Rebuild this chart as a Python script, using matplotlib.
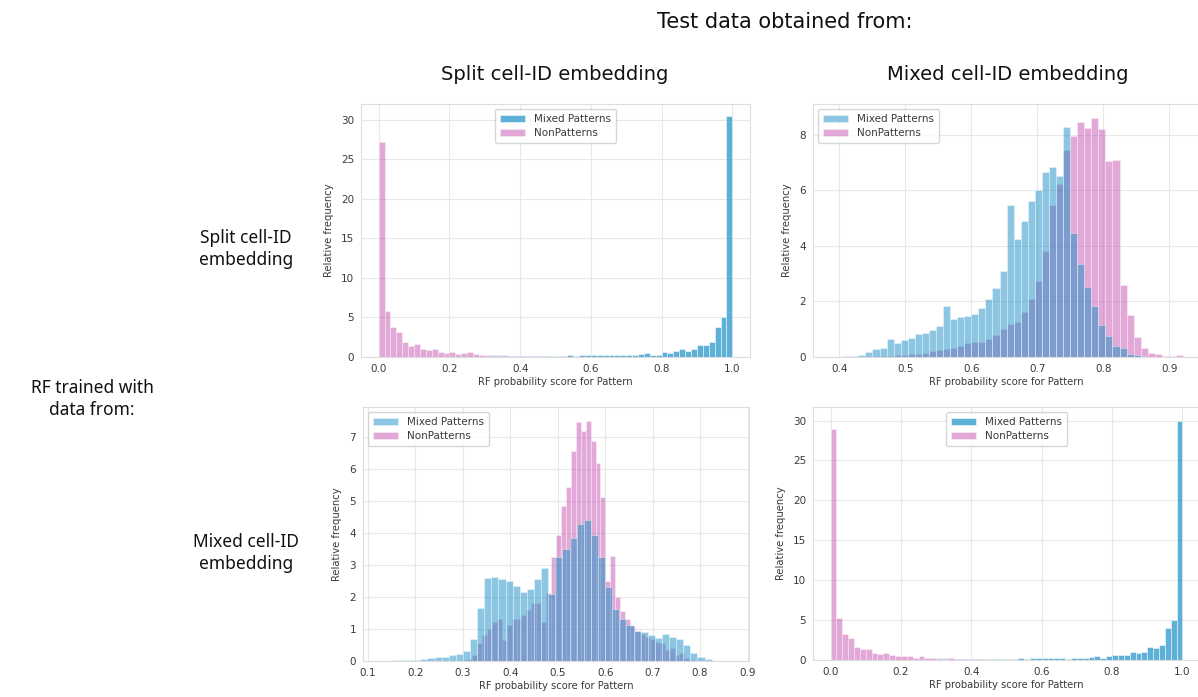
import numpy as np
import matplotlib
matplotlib.use("Agg")
import matplotlib.pyplot as plt
import seaborn as sns

sns.set_style("whitegrid")
plt.rcParams['font.family'] = ['DejaVu Sans']

# ---- data (relative frequency per bin) ----
# split/split and mixed/mixed panels: 60 bins over [0, 1]
split_bins = np.linspace(0, 1, 61)

tl_mixed = [0.02, 0.02, 0.02, 0.02, 0.02, 0.02, 0.02, 0.02, 0.02, 0.03,
            0.03, 0.03, 0.04, 0.04, 0.05, 0.05, 0.05, 0.06, 0.12, 0.15,
            0.18, 0.15, 0.10, 0.15, 0.12, 0.10, 0.12, 0.15, 0.10, 0.12,
            0.15, 0.12, 0.20, 0.18, 0.20, 0.20, 0.22, 0.20, 0.25, 0.30,
            0.25, 0.20, 0.30, 0.30, 0.35, 0.50, 0.30, 0.30, 0.65, 0.55,
            0.75, 1.00, 0.80, 0.95, 1.50, 1.50, 1.85, 3.85, 5.00, 30.5]
tl_non = [27.2, 5.80, 3.80, 3.20, 1.85, 1.40, 1.70, 1.00, 0.90, 0.95,
          0.60, 0.50, 0.65, 0.40, 0.50, 0.60, 0.35, 0.30, 0.30, 0.25,
          0.25, 0.20, 0.15, 0.15, 0.12, 0.10, 0.10, 0.08, 0.08, 0.06,
          0.06, 0.05, 0.05, 0.04, 0.04, 0.03, 0.03, 0.03, 0.02, 0.02,
          0.02, 0.02, 0.01, 0.01, 0.01, 0.01, 0.01, 0.01, 0.01, 0.01,
          0.01, 0.01, 0.01, 0.01, 0.01, 0.01, 0.01, 0.01, 0.01, 0.02]

br_mixed = [0.02, 0.02, 0.02, 0.02, 0.02, 0.02, 0.02, 0.03, 0.03, 0.03,
            0.03, 0.04, 0.04, 0.04, 0.04, 0.04, 0.04, 0.05, 0.10, 0.08,
            0.05, 0.10, 0.08, 0.10, 0.15, 0.10, 0.05, 0.10, 0.10, 0.15,
            0.10, 0.15, 0.20, 0.15, 0.20, 0.20, 0.25, 0.20, 0.20, 0.25,
            0.15, 0.30, 0.30, 0.30, 0.35, 0.45, 0.30, 0.45, 0.60, 0.60,
            0.60, 1.05, 0.90, 1.05, 1.65, 1.50, 1.90, 4.00, 5.00, 30.0]
br_non = [29.0, 5.20, 3.30, 2.80, 1.60, 1.35, 1.35, 0.90, 0.80, 0.85,
          0.60, 0.50, 0.55, 0.45, 0.30, 0.55, 0.30, 0.30, 0.20, 0.20,
          0.20, 0.15, 0.15, 0.12, 0.10, 0.10, 0.08, 0.08, 0.06, 0.06,
          0.05, 0.05, 0.04, 0.04, 0.03, 0.03, 0.03, 0.02, 0.02, 0.02,
          0.02, 0.02, 0.01, 0.01, 0.01, 0.01, 0.01, 0.01, 0.01, 0.01,
          0.01, 0.01, 0.01, 0.01, 0.01, 0.01, 0.01, 0.01, 0.01, 0.02]

# split-trained RF on mixed test data
tr_bin_width = 0.0107
tr_mixed_start = 0.3966
tr_mixed = [0.01, 0.02, 0.04, 0.08, 0.17, 0.27, 0.31, 0.66, 0.50, 0.60,
            0.69, 0.81, 0.87, 0.96, 1.10, 1.84, 1.35, 1.44, 1.47, 1.56,
            1.78, 2.07, 2.48, 3.10, 5.48, 4.24, 4.90, 5.60, 6.00, 6.64,
            6.82, 6.52, 8.28, 4.45, 3.35, 2.50, 1.85, 1.15, 0.75, 0.40,
            0.33, 0.10, 0.06, 0.02]
tr_non_start = 0.4501
tr_non = [0.02, 0.03, 0.04, 0.06, 0.08, 0.10, 0.12, 0.15, 0.20, 0.25,
          0.30, 0.33, 0.38, 0.50, 0.55, 0.55, 0.66, 0.78, 1.02, 1.20,
          1.26, 1.62, 2.10, 2.74, 3.80, 5.48, 6.23, 7.44, 7.95, 8.45,
          8.25, 8.60, 8.20, 7.05, 7.10, 2.60, 1.50, 0.72, 0.32, 0.15,
          0.10, 0.05, 0.03, 0.07]

# mixed-trained RF on split test data
bl_mixed_start = 0.1508
bl_mixed_width = 0.01497
bl_mixed = [0.02, 0.02, 0.03, 0.03, 0.07, 0.10, 0.14, 0.14, 0.19, 0.22, 0.32,
            0.69, 1.65, 2.59, 2.62, 2.57, 2.50, 2.36, 2.17, 2.25, 2.57, 2.90,
            2.10, 3.27, 3.50, 3.85, 4.30, 4.42, 3.95, 3.27, 2.33, 1.63, 1.30,
            1.13, 0.95, 0.92, 0.81, 0.71, 0.85, 0.76, 0.69, 0.50, 0.26, 0.14,
            0.05]
bl_non_start = 0.299
bl_non_width = 0.0104
bl_non = [0.03, 0.06, 0.19, 0.55, 0.80, 1.00, 1.23, 1.30, 0.66, 1.13,
          1.30, 1.30, 1.44, 1.60, 1.80, 1.80, 1.23, 2.12, 3.25, 3.95,
          4.86, 5.44, 6.56, 7.47, 7.19, 7.50, 6.90, 6.20, 5.12, 2.50,
          3.30, 2.00, 1.55, 1.30, 1.10, 0.95, 0.85, 0.75, 0.70, 0.60,
          0.55, 0.35, 0.40, 0.19, 0.24, 0.08, 0.03]

series_labels = ["Mixed Patterns", "NonPatterns"]
col_titles = ["Split cell-ID embedding", "Mixed cell-ID embedding"]
row_titles = ["Split cell-ID\nembedding", "Mixed cell-ID\nembedding"]

BLUE = "#1b8fc6"
PINK = "#c652b0"
TXT = "#3a3a3a"

W, H = 1198, 697
fig = plt.figure(figsize=(W / 100, H / 100), dpi=100)


def px_axes(x0, x1, y0, y1):
    return fig.add_axes([x0 / W, 1 - y1 / H, (x1 - x0) / W, (y1 - y0) / H])


def edges_from(start, width, n):
    return start + width * np.arange(n)


def draw_panel(ax, mixed_left, mixed_w, mixed, non_left, non_w, non,
               blue_alpha, legend_loc, xlim, ylim, xticks, yticks):
    hn = ax.bar(non_left, non, width=non_w, align='edge', color=PINK,
                alpha=0.5, edgecolor='white', linewidth=0.5,
                label=series_labels[1])
    hm = ax.bar(mixed_left, mixed, width=mixed_w, align='edge', color=BLUE,
                alpha=blue_alpha, edgecolor='white', linewidth=0.5,
                label=series_labels[0])
    ax.set_xlim(*xlim)
    ax.set_ylim(*ylim)
    ax.set_xticks(xticks)
    ax.set_yticks(yticks)
    ax.grid(True, color='#e8e8e8', linewidth=0.8)
    for s in ax.spines.values():
        s.set_color('#dddddd')
        s.set_linewidth(0.8)
    ax.tick_params(labelsize=7.5, colors=TXT, length=0, pad=5)
    ax.set_xlabel("RF probability score for Pattern", fontsize=7.2, color=TXT,
                  labelpad=2)
    ax.set_ylabel("Relative frequency", fontsize=7.2, color=TXT, labelpad=5)
    leg = ax.legend([hm, hn], series_labels, loc=legend_loc, fontsize=7.5,
                    frameon=True, borderpad=0.5, handlelength=2.4,
                    labelspacing=0.35, borderaxespad=0.5)
    leg.get_frame().set_edgecolor('#cccccc')
    for t in leg.get_texts():
        t.set_color(TXT)


xt01 = [0.0, 0.2, 0.4, 0.6, 0.8, 1.0]

ax_tl = px_axes(361, 750, 104, 357)
draw_panel(ax_tl, split_bins[:-1], 1 / 60, tl_mixed,
           split_bins[:-1], 1 / 60, tl_non, 0.7, 'upper center',
           (-0.05, 1.05), (0, 32.0), xt01, [0, 5, 10, 15, 20, 25, 30])

ax_tr = px_axes(813, 1199, 104, 357)
draw_panel(ax_tr, edges_from(tr_mixed_start, tr_bin_width, len(tr_mixed)),
           tr_bin_width, tr_mixed,
           edges_from(tr_non_start, tr_bin_width, len(tr_non)),
           tr_bin_width, tr_non, 0.5, 'upper left',
           (0.36, 0.945), (0, 9.1), [0.4, 0.5, 0.6, 0.7, 0.8, 0.9],
           [0, 2, 4, 6, 8])

ax_bl = px_axes(363, 749, 407, 661)
draw_panel(ax_bl, edges_from(bl_mixed_start, bl_mixed_width, len(bl_mixed)),
           bl_mixed_width, bl_mixed,
           edges_from(bl_non_start, bl_non_width, len(bl_non)),
           bl_non_width, bl_non, 0.5, 'upper left',
           (0.09, 0.903), (0, 7.95),
           [0.1, 0.2, 0.3, 0.4, 0.5, 0.6, 0.7, 0.8, 0.9],
           [0, 1, 2, 3, 4, 5, 6, 7])

ax_br = px_axes(813, 1200, 407, 660)
draw_panel(ax_br, split_bins[:-1], 1 / 60, br_mixed,
           split_bins[:-1], 1 / 60, br_non, 0.7, 'upper center',
           (-0.05, 1.05), (0, 31.7), xt01, [0, 5, 10, 15, 20, 25, 30])

# ---- headings ----
head_font = ['Liberation Sans Narrow', 'DejaVu Sans']
side_font = ['Noto Sans', 'DejaVu Sans']

fig.text(785 / W, 1 - 22 / H, "Test data obtained from:", ha='center',
         va='center', fontsize=15, family=head_font, color='#111111')
fig.text(555 / W, 1 - 75 / H, col_titles[0], ha='center', va='center',
         fontsize=14, family=head_font, color='#111111')
fig.text(1008 / W, 1 - 75 / H, col_titles[1], ha='center', va='center',
         fontsize=14, family=head_font, color='#111111')

fig.text(246 / W, 1 - 249 / H, row_titles[0], ha='center', va='center',
         fontsize=12.5, family=side_font, color='#111111', linespacing=1.3)
fig.text(92 / W, 1 - 399 / H, "RF trained with\ndata from:", ha='center',
         va='center', fontsize=12.5, family=side_font, color='#111111',
         linespacing=1.3)
fig.text(246 / W, 1 - 553 / H, row_titles[1], ha='center', va='center',
         fontsize=12.5, family=side_font, color='#111111', linespacing=1.3)

fig.savefig("out.png", dpi=100)
